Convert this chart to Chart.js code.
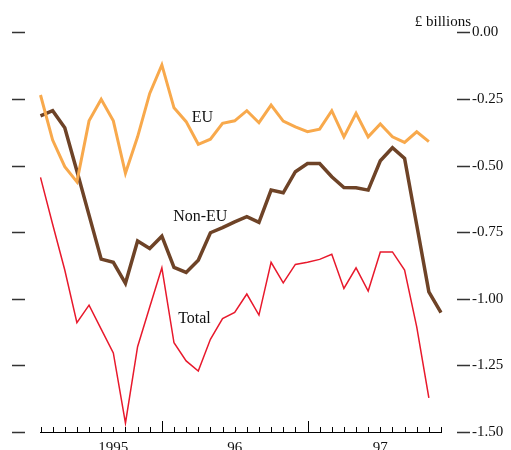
<!DOCTYPE html>
<html>
<head>
<meta charset="utf-8">
<script src="https://cdn.jsdelivr.net/npm/chart.js@4"></script>
<style>
  body { margin: 0; background: #fff; }
</style>
</head>
<body>
<canvas id="tradeChart" width="511" height="450"></canvas>
<script>
// monthly, Mar 1995 .. Dec 1997
const months = ['Mar95','Apr95','May95','Jun95','Jul95','Aug95','Sep95','Oct95','Nov95','Dec95',
    'Jan96','Feb96','Mar96','Apr96','May96','Jun96','Jul96','Aug96','Sep96','Oct96','Nov96','Dec96',
    'Jan97','Feb97','Mar97','Apr97','May97','Jun97','Jul97','Aug97','Sep97','Oct97','Nov97','Dec97'];

const yearLabels = ['', '', '', '', '', '', '1995', '', '', '',
    '', '', '', '', '', '', '96', '', '', '', '', '',
    '', '', '', '', '', '', '97', '', '', '', '', ''];

const yearStarts = [10, 22];

const euBalance = [-0.235, -0.404, -0.504, -0.561, -0.332, -0.251, -0.332, -0.529, -0.392, -0.229,
    -0.122, -0.283, -0.335, -0.420, -0.401, -0.341, -0.332, -0.294, -0.339, -0.273, -0.333, -0.355,
    -0.373, -0.363, -0.294, -0.392, -0.304, -0.392, -0.344, -0.392, -0.413, -0.373, -0.410, null];

const nonEuBalance = [-0.313, -0.294, -0.358, -0.520, -0.686, -0.851, -0.863, -0.942, -0.783, -0.811,
    -0.765, -0.882, -0.901, -0.855, -0.752, -0.733, -0.711, -0.692, -0.713, -0.592, -0.602, -0.523,
    -0.492, -0.492, -0.542, -0.582, -0.583, -0.592, -0.482, -0.433, -0.473, -0.723, -0.974, -1.052];

const totalBalance = [-0.544, -0.720, -0.892, -1.090, -1.024, -1.114, -1.203, -1.467, -1.180, -1.031,
    -0.884, -1.165, -1.233, -1.271, -1.152, -1.074, -1.051, -0.982, -1.061, -0.863, -0.940, -0.871,
    -0.863, -0.852, -0.833, -0.961, -0.884, -0.971, -0.824, -0.824, -0.892, -1.105, -1.372, null];

const yTicks = [0, -0.25, -0.5, -0.75, -1.0, -1.25, -1.5];

// series names written on the chart, anchored in data units (month index, value)
const seriesNotes = [
    { text: 'EU', at: 12.47, value: -0.336 },
    { text: 'Non-EU', at: 10.93, value: -0.709 },
    { text: 'Total', at: 11.34, value: -1.092 }
];

const serif = "'Liberation Serif', 'Times New Roman', serif";

const axisDecor = {
    id: 'axisDecor',
    afterDraw(chart) {
        const ctx = chart.ctx;
        const area = chart.chartArea;
        const x = chart.scales.x;
        const y = chart.scales.y;
        ctx.save();

        // short dashes on both sides at every value tick
        ctx.strokeStyle = '#333';
        ctx.lineWidth = 1.3;
        yTicks.forEach(function(v) {
            const py = Math.round(y.getPixelForValue(v)) + 0.5;
            ctx.beginPath();
            ctx.moveTo(area.left - 28.5, py);
            ctx.lineTo(area.left - 15.5, py);
            ctx.moveTo(area.right + 16, py);
            ctx.lineTo(area.right + 29, py);
            ctx.stroke();
        });

        // month ticks pointing up from the axis
        ctx.strokeStyle = '#000';
        ctx.lineWidth = 1;
        months.forEach(function(m, i) {
            const px = Math.round(x.getPixelForValue(i)) + 0.5;
            const len = yearStarts.includes(i) ? 11 : 5;
            ctx.beginPath();
            ctx.moveTo(px, area.bottom);
            ctx.lineTo(px, area.bottom - len);
            ctx.stroke();
        });

        ctx.fillStyle = '#111';
        ctx.font = '16px ' + serif;
        ctx.textBaseline = 'alphabetic';
        ctx.textAlign = 'left';
        seriesNotes.forEach(function(n) {
            ctx.fillText(n.text, x.getPixelForValue(n.at), y.getPixelForValue(n.value));
        });

        ctx.textAlign = 'right';
        ctx.font = '15px ' + serif;
        ctx.fillText('£ billions', area.right + 30, y.getPixelForValue(0) - 6);
        ctx.restore();
    }
};

document.addEventListener('DOMContentLoaded', function() {
    const ctx = document.getElementById('tradeChart').getContext('2d');

    new Chart(ctx, {
        type: 'line',
        data: {
            labels: months,
            datasets: [{
                label: 'EU',
                data: euBalance,
                borderColor: '#F8A94C',
                borderWidth: 3
            }, {
                label: 'Non-EU',
                data: nonEuBalance,
                borderColor: '#6E4327',
                borderWidth: 3.5
            }, {
                label: 'Total',
                data: totalBalance,
                borderColor: '#E8192C',
                borderWidth: 1.5
            }]
        },
        options: {
            responsive: false,
            animation: false,
            devicePixelRatio: 1,
            layout: { padding: { left: 40.5, top: 32.4, right: 0, bottom: 0 } },
            elements: {
                point: { radius: 0 },
                line: { tension: 0, borderJoinStyle: 'miter', fill: false }
            },
            plugins: {
                legend: { display: false },
                tooltip: { enabled: false }
            },
            scales: {
                x: {
                    grid: { display: false, drawTicks: false },
                    border: { display: true, color: '#000', width: 1 },
                    afterFit: function(scale) { scale.height = 18; },
                    ticks: {
                        autoSkip: false,
                        maxRotation: 0,
                        minRotation: 0,
                        padding: 7,
                        color: '#111',
                        font: { family: serif, size: 15 },
                        callback: function(v, i) { return yearLabels[i]; }
                    }
                },
                y: {
                    position: 'right',
                    min: -1.5,
                    max: 0,
                    grid: { display: false, drawTicks: false },
                    border: { display: false },
                    afterFit: function(scale) {
                        scale.width = 70;
                        // label padding is horizontal only here
                        scale.paddingTop = 0;
                        scale.paddingBottom = 0;
                    },
                    afterBuildTicks: function(scale) {
                        scale.ticks = yTicks.map(function(v) { return { value: v }; });
                    },
                    ticks: {
                        padding: 31,
                        color: '#111',
                        font: { family: serif, size: 15 },
                        callback: function(v) { return v.toFixed(2); }
                    }
                }
            }
        },
        plugins: [axisDecor]
    });
});
</script>
</body>
</html>
